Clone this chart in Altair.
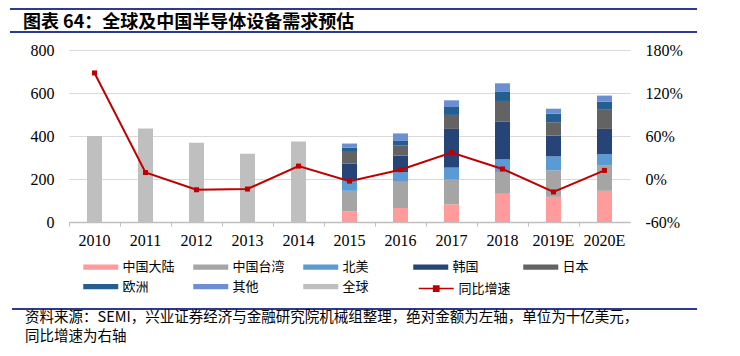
import altair as alt
import pandas as pd

# ---------------- data ----------------
years = ["2010", "2011", "2012", "2013", "2014", "2015", "2016", "2017", "2018", "2019E", "2020E"]

global_years = ["2010", "2011", "2012", "2013", "2014"]
global_values = [400, 435, 369, 318, 375]

region_years = ["2015", "2016", "2017", "2018", "2019E", "2020E"]
regions = ["中国大陆", "中国台湾", "北美", "韩国", "日本", "欧洲", "其他"]
china_mainland = [49, 65, 82, 131, 117, 145]
china_taiwan = [96, 122, 115, 102, 123, 117]
north_america = [51, 45, 56, 58, 65, 54]
korea = [75, 77, 180, 177, 97, 117]
japan = [55, 46, 65, 95, 62, 92]
europe = [19, 22, 37, 42, 40, 35]
others = [20, 35, 31, 40, 23, 28]

growth = [148, 9, -15, -14, 18, -3, 13, 37, 14, -18, 12]

series_domain = regions + ["全球"]
series_colors = ["#FF9B9B", "#A5A5A5", "#5B9BD5", "#264478", "#636363",
                 "#255E91", "#6C8FD4", "#BFBFBF"]

title_text = "图表 64：全球及中国半导体设备需求预估"
footer_1 = "资料来源：SEMI，兴业证券经济与金融研究院机械组整理，绝对金额为左轴，单位为十亿美元，"
footer_2 = "同比增速为右轴"

# ---------------- tables ----------------
rows = []
for y, v in zip(global_years, global_values):
    rows.append({"year": y, "series": "全球", "value": v, "order": 7})
region_lists = [china_mainland, china_taiwan, north_america, korea, japan, europe, others]
for i, (name, vals) in enumerate(zip(regions, region_lists)):
    for y, v in zip(region_years, vals):
        rows.append({"year": y, "series": name, "value": v, "order": i})
bars_df = pd.DataFrame(rows)

line_df = pd.DataFrame({"year": years, "growth": growth, "series": ["同比增速"] * len(years)})

SERIF = "Liberation Serif"
CJK = "Noto Sans CJK SC"

x_enc = alt.X(
    "year:N", sort=years,
    scale=alt.Scale(domain=years, paddingInner=0, paddingOuter=0),
    axis=alt.Axis(title=None, labelAngle=0, bandPosition=0,
                  labelFont=SERIF, labelFontSize=16, labelColor="#000000",
                  labelPadding=6, tickSize=4, tickColor="#BFBFBF",
                  domainColor="#BFBFBF", domainWidth=1.5, grid=False),
)

bars = alt.Chart(bars_df).mark_bar(size=15).encode(
    x=x_enc,
    y=alt.Y("value:Q", stack="zero",
            scale=alt.Scale(domain=[0, 800], nice=False),
            axis=alt.Axis(title=None, values=[0, 200, 400, 600, 800], grid=True,
                          gridColor="#D9D9D9", gridWidth=1, domain=False, ticks=False,
                          labelPadding=15, labelFont=SERIF, labelFontSize=16,
                          labelColor="#000000")),
    color=alt.Color("series:N",
                    scale=alt.Scale(domain=series_domain, range=series_colors),
                    legend=alt.Legend(title=None, orient="none", legendX=22.75, legendY=208,
                                      direction="horizontal", columns=5, gridAlign="all",
                                      symbolType="M-2,-0.3H2V0.3H-2Z", symbolSize=306.25,
                                      symbolStrokeWidth=0, symbolOpacity=1,
                                      labelFont=CJK, labelFontSize=13, labelColor="#000000",
                                      labelOffset=12.75, columnPadding=18, rowPadding=3.5)),
    order=alt.Order("order:Q"),
)

line = alt.Chart(line_df).mark_line(
    strokeWidth=2,
    point=alt.OverlayMarkDef(shape="square", size=25, filled=True, color="#C00000"),
).encode(
    x=alt.X("year:N", sort=years),
    y=alt.Y("growth:Q", scale=alt.Scale(domain=[-60, 180], nice=False),
            axis=alt.Axis(title=None, orient="right", values=[-60, 0, 60, 120, 180],
                          labelExpr="datum.value + '%'", grid=False, domain=False,
                          ticks=False, labelPadding=15, labelFont=SERIF,
                          labelFontSize=16, labelColor="#000000")),
    color=alt.Color("series:N",
                    scale=alt.Scale(domain=["同比增速"], range=["#C00000"]),
                    legend=alt.Legend(title=None, orient="none", legendX=357.75, legendY=229,
                                      symbolType="M-2,0H2M-0.3,-0.3H0.3V0.3H-0.3Z",
                                      symbolSize=306.25, symbolStrokeWidth=1.5,
                                      symbolStrokeColor="#C00000", symbolFillColor="#C00000",
                                      labelFont=CJK, labelFontSize=13, labelColor="#000000",
                                      labelOffset=12.75)),
)

one = pd.DataFrame({"k": [0]})

rule_top = alt.Chart(one).mark_rule(color="#2F3A8F", strokeWidth=2).encode(
    x=alt.value(-59), x2=alt.value(628), y=alt.value(-41))
rule_title = alt.Chart(one).mark_rule(color="#2F3A8F", strokeWidth=2).encode(
    x=alt.value(-59), x2=alt.value(628), y=alt.value(-18))
rule_foot = alt.Chart(one).mark_rule(color="#2F3A8F", strokeWidth=2).encode(
    x=alt.value(-57), x2=alt.value(628), y=alt.value(259))

title_mark = alt.Chart(pd.DataFrame({"t": [title_text]})).mark_text(
    align="left", baseline="middle", font=CJK, fontSize=18, fontWeight="bold", color="#000000"
).encode(text="t:N", x=alt.value(-46), y=alt.value(-27.5))

foot_mark1 = alt.Chart(pd.DataFrame({"t": [footer_1]})).mark_text(
    align="left", baseline="middle", font=CJK, fontSize=14.5, color="#000000"
).encode(text="t:N", x=alt.value(-44), y=alt.value(268))

foot_mark2 = alt.Chart(pd.DataFrame({"t": [footer_2]})).mark_text(
    align="left", baseline="middle", font=CJK, fontSize=14.5, color="#000000"
).encode(text="t:N", x=alt.value(-44), y=alt.value(287))

chart = alt.layer(
    bars, line, rule_top, rule_title, rule_foot, title_mark, foot_mark1, foot_mark2
).resolve_scale(
    y="independent", color="independent"
).properties(
    width=561, height=172,
    autosize=alt.AutoSizeParams(type="none"),
    padding={"left": 61, "top": 42, "right": 102, "bottom": 126},
).configure_view(stroke=None)

chart.save("out.html", embed_options={"renderer": "svg", "actions": False})
